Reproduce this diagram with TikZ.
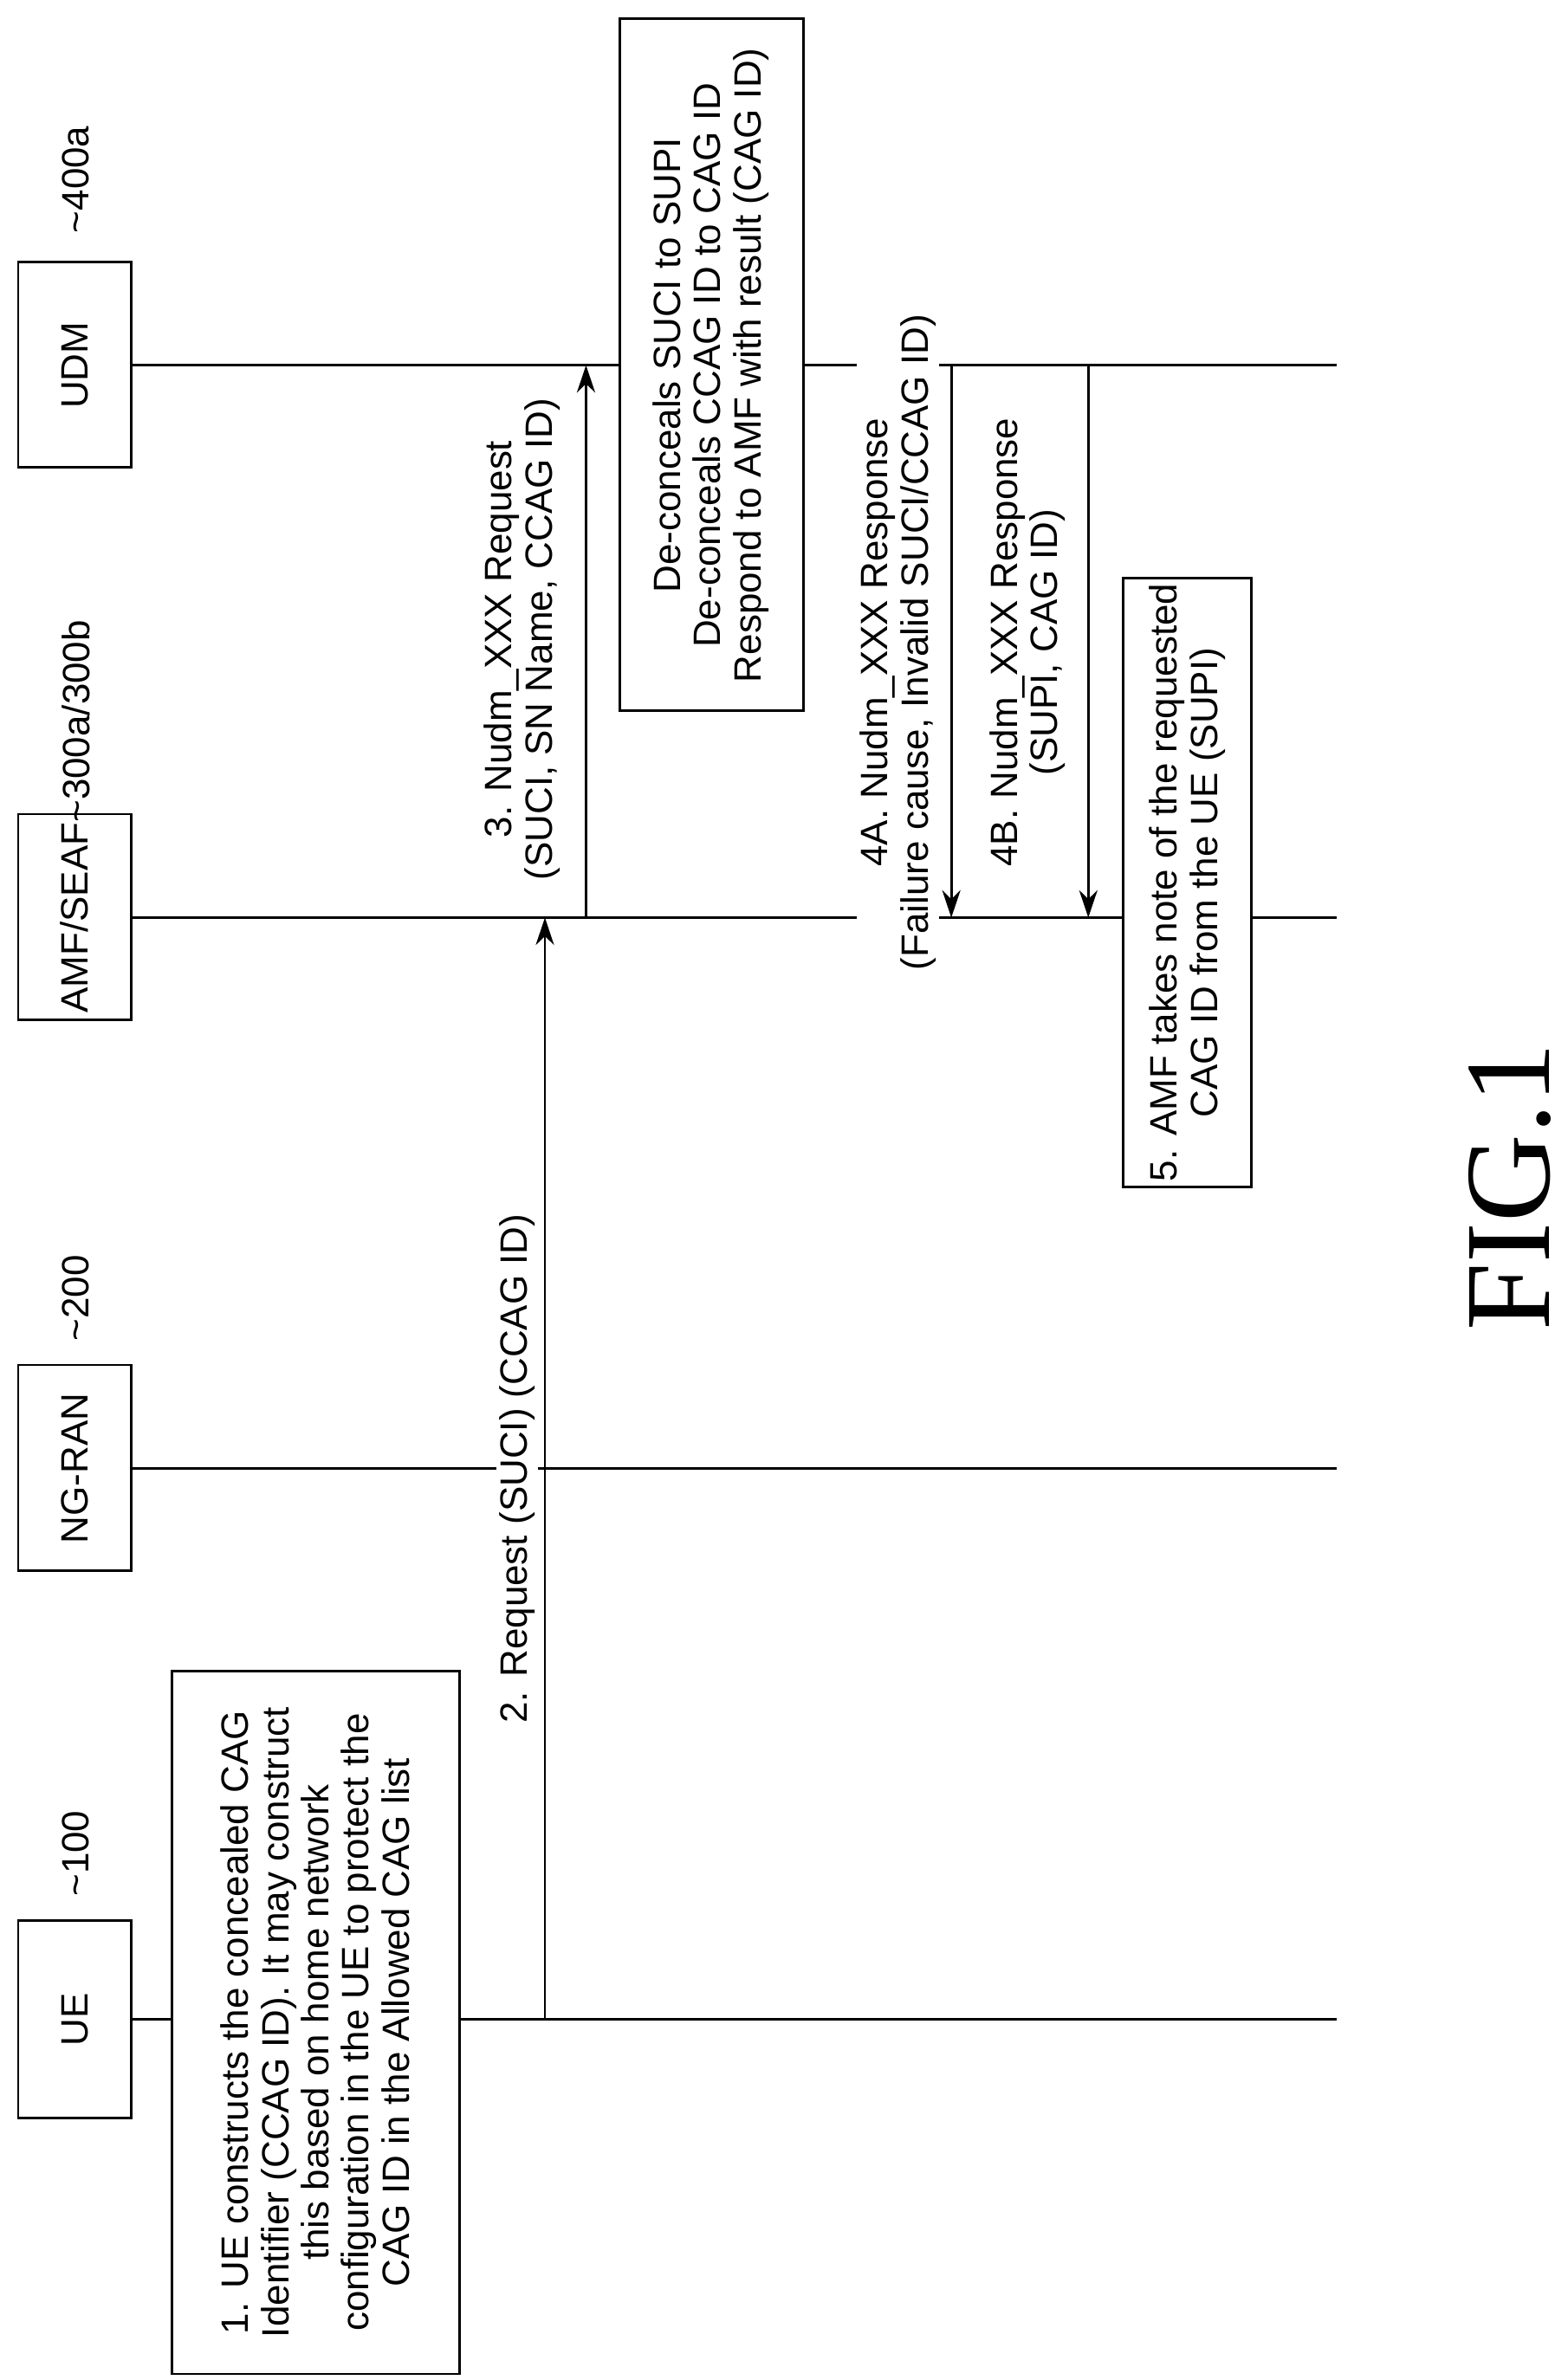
\documentclass[tikz,border=0pt]{standalone}
\usepackage{fontspec}
\usetikzlibrary{arrows.meta}
\setmainfont{Liberation Sans}
\newfontfamily\figfont{Liberation Serif}
\begin{document}
\begin{tikzpicture}[x=0.01756cm,y=-0.01756cm,
  lbl/.style={rotate=90,font=\fontsize{12.5}{13.2}\selectfont,align=center,inner sep=1pt},
  wl/.style={lbl,fill=white},
  boxr/.style={draw,line width=0.8pt,fill=white},
  life/.style={line width=0.8pt},
  arr/.style={line width=0.8pt,-{Stealth[length=9pt,width=6pt]}}]
\useasboundingbox (0,0) rectangle (1030,1564);
% lifelines
\coordinate (ueL) at (86,1327); \coordinate (ueE) at (878,1327);
\coordinate (rnL) at (86,965); \coordinate (rnE) at (878,965);
\coordinate (amL) at (86,603); \coordinate (amE) at (878,603);
\coordinate (udL) at (86,240); \coordinate (udE) at (878,240);
\draw[life] (ueL) -- (ueE);
\draw[life] (rnL) -- (rnE);
\draw[life] (amL) -- (amE);
\draw[life] (udL) -- (udE);
% entity boxes
\draw[boxr] (12,1262) rectangle (86,1392); \node[lbl] (ue) at (49,1327) {UE};
\draw[boxr] (12,897) rectangle (86,1032); \node[lbl] (rn) at (49,965) {NG-RAN};
\draw[boxr] (12,535) rectangle (86,670); \node[lbl] (am) at (49,603) {AMF/SEAF};
\draw[boxr] (12,172) rectangle (86,307); \node[lbl] (ud) at (49,240) {UDM};
\node[lbl] (r1) at (50,1218) {\textasciitilde100};
\node[lbl] (r2) at (50,853) {\textasciitilde200};
\node[lbl] (r3) at (50,474) {\textasciitilde300a/300b};
\node[lbl] (r4) at (50,118) {\textasciitilde400a};
% step 1
\draw[boxr] (113,1098) rectangle (302,1560);
\node[lbl] (s1) at (207,1329) {1. UE constructs the concealed CAG\\Identifier (CCAG ID). It may construct\\this based on home network\\configuration in the UE to protect the\\CAG ID in the Allowed CAG list};
% arrow 2
\coordinate (a2s) at (358,1327); \coordinate (a2e) at (358,603);
\draw[arr] (a2s) -- (a2e);
\node[wl] (l2) at (340,965) {2. Request (SUCI) (CCAG ID)};
% arrow 3
\coordinate (a3s) at (385,603); \coordinate (a3e) at (385,240);
\draw[arr] (a3s) -- (a3e);
\node[lbl] (l3) at (343,420) {3. Nudm\_XXX Request\\(SUCI, SN Name, CCAG ID)};
% UDM box
\draw[boxr] (407,12) rectangle (528,467);
\node[lbl] (su) at (467,240) {De-conceals SUCI to SUPI\\De-conceals CCAG ID to CAG ID\\Respond to AMF with result (CAG ID)};
% 4A
\coordinate (a4s) at (625,240); \coordinate (a4e) at (625,603);
\draw[arr] (a4s) -- (a4e);
\node[wl] (l4) at (590,422) {4A. Nudm\_XXX Response\\(Failure cause, Invalid SUCI/CCAG ID)};
% 4B
\coordinate (b4s) at (715,240); \coordinate (b4e) at (715,603);
\draw[arr] (b4s) -- (b4e);
\node[lbl] (l4b) at (675,422) {4B. Nudm\_XXX Response\\(SUPI, CAG ID)};
% step 5
\draw[boxr] (738,380) rectangle (822,780);
\node[lbl] (s5) at (780,580) {5. AMF takes note of the requested\\CAG ID from the UE (SUPI)};
\node[rotate=90,font=\figfont\fontsize{40}{40}\selectfont] (fig) at (992,780) {FIG.1};
\end{tikzpicture}
\end{document}
